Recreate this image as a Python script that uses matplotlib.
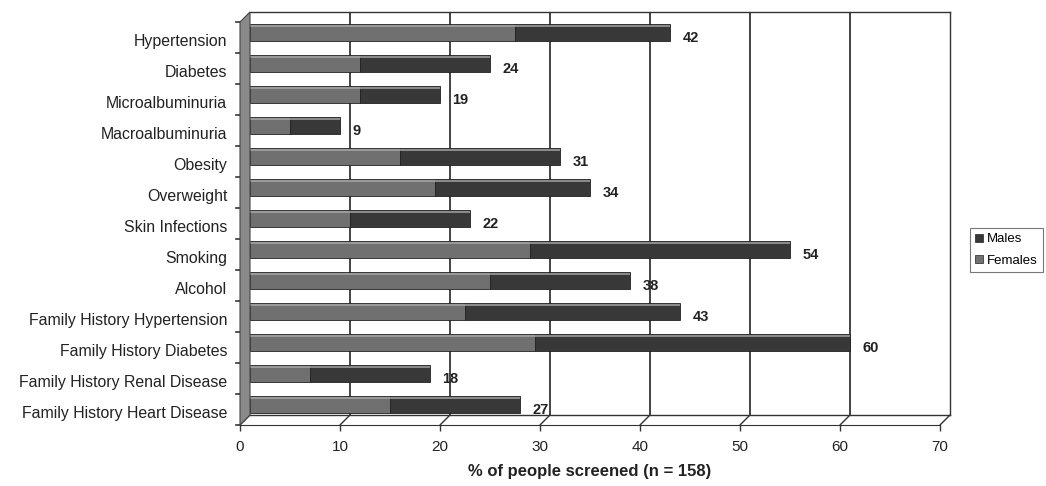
import matplotlib
matplotlib.use("Agg")
import matplotlib.pyplot as plt
from matplotlib.patches import Polygon, ConnectionPatch, Patch
from matplotlib.transforms import ScaledTranslation
import numpy as np

plt.rcParams['font.family'] = ['Liberation Sans', 'DejaVu Sans']

# screening results, % of people screened (n = 158)
categories = ["Hypertension", "Diabetes", "Microalbuminuria", "Macroalbuminuria",
              "Obesity", "Overweight", "Skin Infections", "Smoking", "Alcohol",
              "Family History Hypertension", "Family History Diabetes",
              "Family History Renal Disease", "Family History Heart Disease"]
totals = [42, 24, 19, 9, 31, 34, 22, 54, 38, 43, 60, 18, 27]
females = [26.5, 11, 11, 4, 15, 18.5, 10, 28, 24, 21.5, 28.5, 6, 14]
males = [t - f for t, f in zip(totals, females)]
xticks = list(range(0, 71, 10))

W, H = 1046, 486
female_col = "#707070"
male_col = "#383838"
edge_col = "#222222"


def fig_box(left, top, right, bottom):
    """pixel box -> figure fraction [x, y, w, h]"""
    return [left / W, 1 - bottom / H, (right - left) / W, (bottom - top) / H]


def px(x, y):
    return (x / W, 1 - y / H)


fig = plt.figure(figsize=(W / 100, H / 100), dpi=100)

# back wall of the 3d box, carries bars and gridlines
ax = fig.add_axes(fig_box(250, 12, 950, 415))
rows = np.arange(len(categories))
ax.set_xlim(0, 70)
ax.set_ylim(12.339, -0.661)
ax.barh(rows, females, height=0.54, color=female_col, edgecolor=edge_col, linewidth=0.6, zorder=3)
ax.barh(rows, males, left=females, height=0.54, color=male_col, edgecolor=edge_col, linewidth=0.6, zorder=3)
# light top edge of the bars
ax.barh(rows - 0.21, totals, height=0.06, color="#8a8a8a", linewidth=0, zorder=4)
ax.barh(rows - 0.21, females, height=0.06, color="#9a9a9a", linewidth=0, zorder=4)
for v in xticks[1:-1]:
    ax.axvline(v, color="#111111", linewidth=1.1, zorder=1)
ax.set_xticks([])
ax.set_yticks([])
for s in ["top", "right", "bottom"]:
    ax.spines[s].set_color("#333333")
    ax.spines[s].set_linewidth(1.0)
ax.spines["left"].set_visible(False)

for r, t in zip(rows, totals):
    ax.annotate(str(t), (t, r), xytext=(9, -4), textcoords="offset points",
                ha="left", va="center", fontsize=10.5, fontweight="bold",
                color="#222222", annotation_clip=False)

# category labels on the front edge of the left wall
axf = fig.add_axes(fig_box(230, 17, 240, 420))
axf.set_ylim(12.339, -0.661)
axf.set_yticks(rows)
axf.set_yticklabels(categories, fontsize=11.4, color="#222222")
axf.tick_params(axis="y", length=0, pad=2)
# labels sit a little lower than the row centres
shift = ScaledTranslation(0, -3 / 100, fig.dpi_scale_trans)
for lbl in axf.get_yticklabels():
    lbl.set_transform(lbl.get_transform() + shift)
axf.set_xticks([])
axf.patch.set_visible(False)
for s in axf.spines.values():
    s.set_visible(False)
for b in np.arange(-0.5, len(categories), 1):
    axf.plot([0.6, 1.0], [b, b], color="#333333", linewidth=1.2, clip_on=False,
             transform=axf.get_yaxis_transform())

# front x axis of the floor
ax2 = fig.add_axes(fig_box(240, 424, 940, 425))
ax2.set_xlim(0, 70)
ax2.set_xticks(xticks)
ax2.set_xticklabels([str(v) for v in xticks], fontsize=11, color="#222222")
ax2.tick_params(axis="x", length=4, width=1, color="#333333", pad=7)
ax2.set_yticks([])
ax2.patch.set_visible(False)
for s in ["top", "left", "right"]:
    ax2.spines[s].set_visible(False)
ax2.spines["bottom"].set_color("#333333")
ax2.set_xlabel("% of people screened (n = 158)", fontsize=12, fontweight="bold",
               labelpad=7, color="#222222")

# floor lines joining the back wall to the front axis
for v in xticks:
    con = ConnectionPatch(xyA=(v, 0), coordsA=ax.get_xaxis_transform(),
                          xyB=(v, 0), coordsB=ax2.get_xaxis_transform(),
                          color="#333333", linewidth=1.0)
    fig.add_artist(con)

# left side wall
wall = Polygon([px(240, 22), px(250, 12), px(250, 415), px(240, 425)],
               closed=True, transform=fig.transFigure,
               facecolor="#8a8a8a", edgecolor="#444444", linewidth=0.8, zorder=5)
fig.add_artist(wall)

handles = [Patch(facecolor=male_col, edgecolor=edge_col, linewidth=0.5),
           Patch(facecolor=female_col, edgecolor=edge_col, linewidth=0.5)]
leg = fig.legend(handles, ["Males", "Females"], loc="center left",
                 bbox_to_anchor=(970 / W, 1 - 250 / H), fontsize=9.5,
                 frameon=True, fancybox=False, handlelength=0.6, handleheight=0.6,
                 handletextpad=0.3, borderpad=0.4, labelspacing=0.7, borderaxespad=0)
leg.get_frame().set_edgecolor("#555555")
leg.get_frame().set_linewidth(0.8)

fig.savefig("out.png", dpi=100)
